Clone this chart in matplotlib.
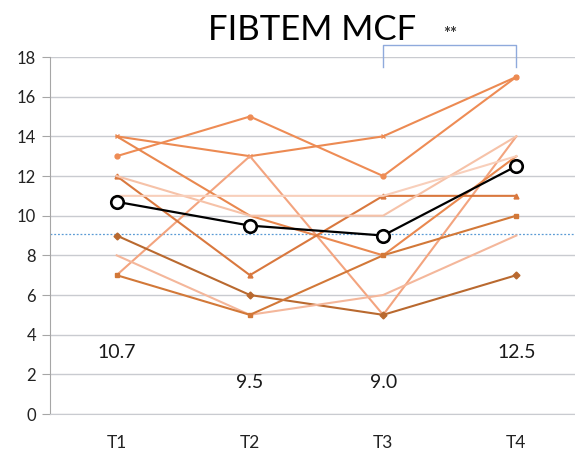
import numpy as np
import matplotlib.pyplot as plt

# FIBTEM MCF per patient over four time points, plus the group mean
timepoints = ["T1", "T2", "T3", "T4"]
patient_values = [
    [13, 15, 12, 17],
    [14, 13, 14, 17],
    [7, 13, 5, 14],
    [14, 10, 8, 13],
    [12, 7, 11, 11],
    [12, 10, 10, 14],
    [11, 11, 11, 13],
    [9, 6, 5, 7],
    [8, 5, 6, 9],
    [7, 5, 8, 10],
]
patient_colors = ["#EE8C55", "#EC8A52", "#F3A47F", "#E9884F", "#D9783E",
                  "#F6C2A8", "#F8CFBB", "#B9692F", "#F4B79B", "#D27838"]
patient_markers = ["o", "x", "", "", "^", "", "", "D", "", "s"]
mean_values = [10.7, 9.5, 9.0, 12.5]
mean_labels = ["10.7", "9.5", "9.0", "12.5"]
reference_level = 9.1
y_ticks = [0, 2, 4, 6, 8, 10, 12, 14, 16, 18]

plt.rcParams['font.family'] = ['Lato', 'DejaVu Sans']

fig = plt.figure(figsize=(5.75, 4.54), dpi=100)
ax = fig.add_axes([0.087, 0.0881, 0.913, 0.7863])

x = np.arange(1, len(timepoints) + 1)

for vals, col, mk in zip(patient_values, patient_colors, patient_markers):
    ax.plot(x, vals, color=col, linewidth=1.5, marker=mk if mk else None,
            markersize=3.5, markeredgewidth=1, zorder=3)

ax.axhline(reference_level, color="#5B9BD5", linestyle=(0, (1.5, 1.5)),
           linewidth=0.9, zorder=2)

ax.plot(x, mean_values, color="black", linewidth=1.6, marker="o",
        markersize=9, markerfacecolor="white", markeredgecolor="black",
        markeredgewidth=1.9, zorder=5)

# mean value annotations below the lines
label_y = [3.1, 1.6, 1.6, 3.1]
for xi, ly, txt in zip(x, label_y, mean_labels):
    ax.text(xi, ly, txt, ha="center", va="center", fontsize=14, color="#1a1a1a")

# significance bracket between T3 and T4
ax.plot([3, 3, 4, 4], [17.5, 18.6, 18.6, 17.5], color="#8FAADC",
        linewidth=1.0, clip_on=False, zorder=4)
ax.text(3.5, 19.15, "**", ha="center", va="center", fontsize=12,
        fontweight="bold", color="#333333")

ax.set_title("FIBTEM MCF", fontsize=25, pad=12, color="black")

ax.set_xlim(0.5, 4.44)
ax.set_ylim(0, 18)
ax.set_xticks(x)
ax.set_xticklabels(timepoints, fontsize=12.5, color="#222222")
ax.set_yticks(y_ticks)
ax.tick_params(axis="y", labelsize=12, labelcolor="#222222", length=6,
               color="#A6A6A6", pad=4)
ax.tick_params(axis="x", length=0, pad=15)

ax.grid(axis="y", color="#C9CBD0", linewidth=1.0, zorder=0)
ax.set_axisbelow(True)
for side in ["top", "right"]:
    ax.spines[side].set_visible(False)
ax.spines["left"].set_color("#A6A6A6")
ax.spines["bottom"].set_color("#C9CBD0")

fig.savefig("out.png", dpi=100)
